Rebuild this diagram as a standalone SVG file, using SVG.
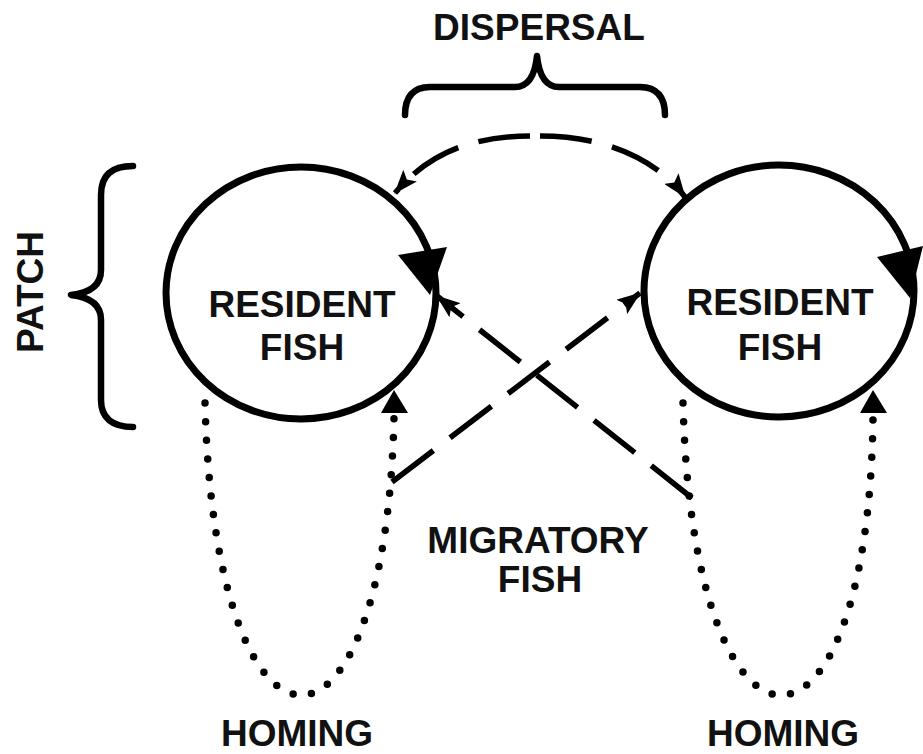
<svg xmlns="http://www.w3.org/2000/svg" width="923" height="754" viewBox="0 0 923 754">
<defs>
<style>
.lbl{font-family:"Liberation Sans",Arial,sans-serif;font-size:37px;font-weight:bold;fill:#111;text-anchor:middle}
.circ{fill:none;stroke:#000;stroke-width:7}
.brace{fill:none;stroke:#000;stroke-width:6.5;stroke-linecap:round;stroke-linejoin:round}
.dash{fill:none;stroke:#000;stroke-width:5.5;stroke-dasharray:52 21}
.dot{fill:none;stroke:#000;stroke-width:7.5;stroke-linecap:round;stroke-dasharray:0 18.6}
.head{fill:#000}
</style>
<marker id="sm" viewBox="0 0 24 18" refX="23" refY="9" markerWidth="24" markerHeight="18" markerUnits="userSpaceOnUse" orient="auto">
<path d="M0,0 L24,9 L0,18 L5,9 Z" fill="#000"/>
</marker>
</defs>
<rect width="923" height="754" fill="#fff"/>

<g id="patch-left">
<ellipse class="circ" cx="301" cy="293" rx="135" ry="126"/>
<polygon class="head" points="398,255 447,247 430,295"/>
<text class="lbl" x="302" y="317">RESIDENT</text>
<text class="lbl" x="302" y="360">FISH</text>
</g>

<g id="patch-right">
<ellipse class="circ" cx="779" cy="291" rx="135" ry="126"/>
<polygon class="head" points="877,257 923,246 910,298"/>
<text class="lbl" x="780" y="315">RESIDENT</text>
<text class="lbl" x="780" y="360">FISH</text>
</g>

<g id="patch-brace">
<path class="brace" d="M133,166 C112,166 101,175 101,195 L101,270 C101,285 90,293 71,295 C90,297 101,305 101,320 L101,400 C101,418 112,427 133,427"/>
<text class="lbl" transform="translate(43,292) rotate(-90)">PATCH</text>
</g>

<g id="dispersal-label">
<path class="brace" d="M405,115 C405,97 413,87 430,87 L515,87 C528,87 535,75 537,56 C539,75 546,87 559,87 L640,87 C657,87 665,97 665,115"/>
<text class="lbl" x="539" y="40">DISPERSAL</text>
</g>

<g id="migratory-label">
<text class="lbl" x="538" y="553">MIGRATORY</text>
<text class="lbl" x="540" y="592">FISH</text>
</g>

<g id="homing-left-label"><text class="lbl" x="297" y="746">HOMING</text></g>
<g id="homing-right-label"><text class="lbl" x="783" y="746">HOMING</text></g>

<g id="connectors">
<path class="dash" d="M540,136 C620,136 665,170 685,197" marker-end="url(#sm)"/>
<path class="dash" d="M530,136 C450,136 415,170 395,193" marker-end="url(#sm)"/>
<path class="dash" d="M392,482 L640,293" marker-end="url(#sm)"/>
<path class="dash" d="M692,498 L437,296" marker-end="url(#sm)"/>
<path class="dot" d="M205,403 C215,790 385,790 394,418"/>
<polygon class="head" points="394,390 381,413 408,413"/>
<path class="dot" d="M683,403 C693,790 868,790 873,418"/>
<polygon class="head" points="873,390 860,413 887,413"/>
</g>
</svg>
